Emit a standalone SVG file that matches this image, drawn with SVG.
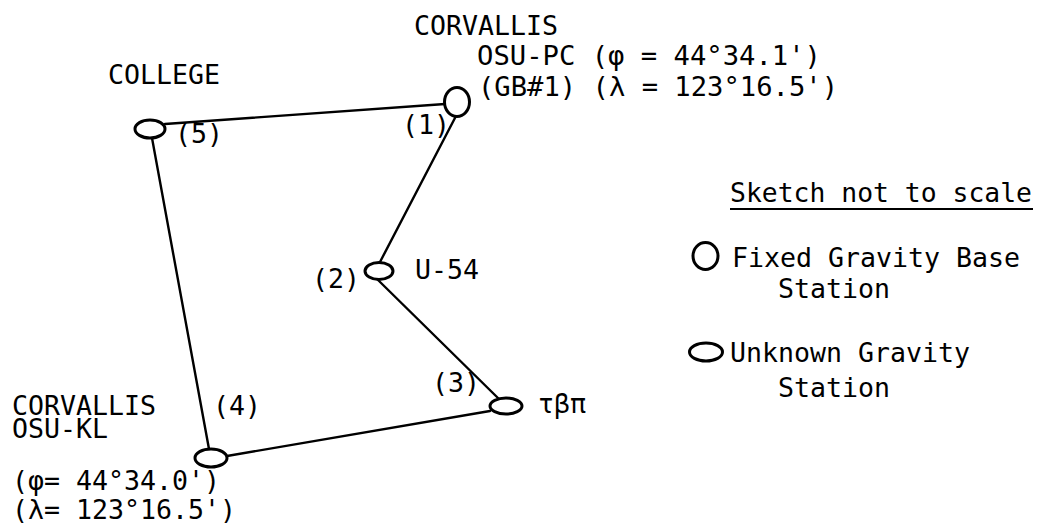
<svg xmlns="http://www.w3.org/2000/svg" width="1039" height="524" viewBox="0 0 1039 524">
<style>
text { font-family: "DejaVu Sans Mono", "Liberation Mono", monospace; font-size: 26.5px; fill: #000; }
.st { fill: #fff; stroke: #000; stroke-width: 3; }
.ln { stroke: #000; stroke-width: 2.4; fill: none; stroke-linecap: round; }
</style>
<rect width="1039" height="524" fill="#fff"/>
<g id="connectors">
<line class="ln" x1="165" y1="124" x2="445" y2="104"/>
<line class="ln" x1="456" y1="116" x2="380" y2="262"/>
<line class="ln" x1="377" y1="279" x2="500" y2="400"/>
<line class="ln" x1="490" y1="411" x2="227" y2="456"/>
<line class="ln" x1="209" y1="449" x2="152" y2="138"/>
</g>
<g id="college">
<ellipse class="st" cx="150" cy="129" rx="15" ry="9"/>
<text x="108" y="84" textLength="112" lengthAdjust="spacingAndGlyphs">COLLEGE</text>
<text x="175" y="143" textLength="48" lengthAdjust="spacingAndGlyphs">(5)</text>
</g>
<g id="osu-pc">
<ellipse class="st" cx="457" cy="102" rx="12.5" ry="14.5"/>
<text x="414" y="35" textLength="144" lengthAdjust="spacingAndGlyphs">CORVALLIS</text>
<text x="477" y="65" textLength="344" lengthAdjust="spacingAndGlyphs">OSU-PC (φ = 44°34.1')</text>
<text x="478" y="96" textLength="360" lengthAdjust="spacingAndGlyphs">(GB#1) (λ = 123°16.5')</text>
<text x="402" y="134" textLength="48" lengthAdjust="spacingAndGlyphs">(1)</text>
</g>
<g id="u54">
<ellipse class="st" cx="379" cy="271" rx="14" ry="8.5"/>
<text x="415" y="279" textLength="64" lengthAdjust="spacingAndGlyphs">U-54</text>
<text x="312" y="288" textLength="48" lengthAdjust="spacingAndGlyphs">(2)</text>
</g>
<g id="tbp">
<ellipse class="st" cx="506" cy="406" rx="16" ry="8"/>
<text x="538" y="413" textLength="48" lengthAdjust="spacingAndGlyphs">τβπ</text>
<text x="432" y="392" textLength="48" lengthAdjust="spacingAndGlyphs">(3)</text>
</g>
<g id="osu-kl">
<ellipse class="st" cx="211" cy="458" rx="16" ry="9"/>
<text x="12" y="415" textLength="144" lengthAdjust="spacingAndGlyphs">CORVALLIS</text>
<text x="12" y="438" textLength="96" lengthAdjust="spacingAndGlyphs">OSU-KL</text>
<text x="12" y="490" textLength="208" lengthAdjust="spacingAndGlyphs">(φ= 44°34.0')</text>
<text x="12" y="519" textLength="224" lengthAdjust="spacingAndGlyphs">(λ= 123°16.5')</text>
<text x="213" y="415" textLength="48" lengthAdjust="spacingAndGlyphs">(4)</text>
</g>
<g id="legend">
<text x="730" y="202" textLength="302" lengthAdjust="spacingAndGlyphs">Sketch not to scale</text>
<line x1="730" y1="209" x2="1033" y2="209" stroke="#000" stroke-width="2"/>
<ellipse class="st" cx="705.5" cy="256" rx="12.5" ry="13.5"/>
<text x="732" y="267" textLength="288" lengthAdjust="spacingAndGlyphs">Fixed Gravity Base</text>
<text x="778" y="298" textLength="112" lengthAdjust="spacingAndGlyphs">Station</text>
<ellipse class="st" cx="706" cy="352" rx="16.5" ry="9"/>
<text x="730" y="362" textLength="240" lengthAdjust="spacingAndGlyphs">Unknown Gravity</text>
<text x="778" y="397" textLength="112" lengthAdjust="spacingAndGlyphs">Station</text>
</g>
</svg>
